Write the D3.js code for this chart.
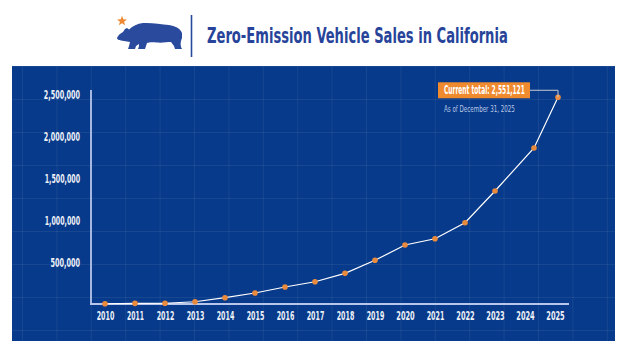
<!DOCTYPE html>
<html><head><meta charset="utf-8">
<script src="https://cdn.jsdelivr.net/npm/d3@7/dist/d3.min.js"></script>
<style>
html,body{margin:0;padding:0;background:#fff;}
svg{display:block;}
</style></head>
<body>
<svg id="chart" width="619" height="357"></svg>
<script>
// ---- data ----
const years = [2010,2011,2012,2013,2014,2015,2016,2017,2018,2019,2020,2021,2022,2023,2024,2025];
// x position of each point (year), as drawn in the picture
const pointYears = [2010,2011,2012,2013,2014,2015,2016,2017,2018,2019,2020,2021,2022,2023,2024.3,2025.1];
const cumulativeSales = [3000,8000,9000,27000,75000,131000,202000,265000,365000,520000,702000,777000,968000,1345000,1857000,2461000];
const yTicks = [500000,1000000,1500000,2000000,2500000];
const titleText = "Zero-Emission Vehicle Sales in California";
const calloutText = "Current total: 2,551,121";
const calloutSub = "As of December 31, 2025";

const FONT = "'Liberation Sans Narrow','DejaVu Sans Condensed','Roboto Condensed','DejaVu Sans',sans-serif";
const svg = d3.select("#chart");

// squeeze a text horizontally to a target width (condensed look), anchored as given
function squeeze(sel, target, anchor) {
  sel.each(function(){
    const t = d3.select(this);
    const w = this.getComputedTextLength();
    const tw = typeof target === "function" ? target(this.textContent) : target;
    const s = Math.min(1, tw / w);
    const xx = +t.attr("x") || 0, yy = +t.attr("y") || 0;
    t.attr("x", xx / s).attr("transform", `scale(${s},1)`);
  });
}
const condensedWidth = s => Array.from(s).reduce((w,c) => w + (c === "," ? 2 : c === "1" ? 3.8 : 4.6), 0);

// ---- header ----
const hdr = svg.append("g");
// bear (facing left)
const bearPath = "M0,15 C1,12 4,10 6,9 L8,6 L10,5 L12,6.5 C16,3 20,0.5 26,0 C34,-0.5 44,1 52,2 C58,3 63,5 65,10 L65,15 C64,18 63,20 64,24 L65,26 L58,26 L57,23 L54,19 C50,19 45,20 40,19.5 C36,19 32,19 30,20 L28,26 L21,26 L22,23 L22,21 L19,23 L18,26 L11,26 L12,23 L13,19 C10,18.5 7,18 4,17.5 C2,17 0,16.5 0,15 Z";
hdr.append("path").attr("d", bearPath).attr("fill", "#2a4a9e")
  .attr("transform", "translate(117,23)");
// star
const star = d3.range(10).map(i => {
  const r = i % 2 ? 2.2 : 5.2, a = -Math.PI/2 + i*Math.PI/5;
  return [r*Math.cos(a), r*Math.sin(a)];
});
hdr.append("path").attr("d", d3.line()(star) + "Z").attr("fill", "#ee8a33")
  .attr("transform", "translate(122,21)");
hdr.append("line").attr("x1",191.5).attr("x2",191.5).attr("y1",15).attr("y2",57)
  .attr("stroke","#2a4a9e").attr("stroke-width",1.6);
hdr.append("text").attr("x",207).attr("y",43)
  .attr("font-family",FONT).attr("font-weight","bold").attr("font-size",21)
  .attr("fill","#27449a")
  .text(titleText)
  .call(squeeze, 301);

// ---- panel ----
const panel = {x:12, y:66, w:603, h:275};
svg.append("rect").attr("x",panel.x).attr("y",panel.y).attr("width",panel.w).attr("height",panel.h)
  .attr("fill","#073a8a");
const grid = svg.append("g").attr("stroke","#ffffff").attr("stroke-opacity",0.07).attr("stroke-width",1);
d3.range(panel.x + 10.5, panel.x + panel.w, 34.4).forEach(x => {
  grid.append("line").attr("x1",x).attr("x2",x).attr("y1",panel.y).attr("y2",panel.y+panel.h);
});
d3.range(panel.y + 0.5, panel.y + panel.h, 33).forEach(y => {
  grid.append("line").attr("x1",panel.x).attr("x2",panel.x+panel.w).attr("y1",y).attr("y2",y);
});

// ---- scales ----
const x = d3.scaleLinear().domain([2010,2025]).range([105,555]);
const y = d3.scaleLinear().domain([0,2500000]).range([304,94]);

// axes
const yAxis = svg.append("g").attr("transform","translate(91,0)")
  .call(d3.axisLeft(y).tickValues(yTicks).tickSize(0).tickPadding(11).tickFormat(d3.format(",")));
yAxis.select(".domain").remove();
yAxis.selectAll("text").attr("font-family",FONT).attr("font-weight","bold")
  .attr("font-size",12.5).attr("fill","#eef1f8")
  .call(squeeze, condensedWidth);
svg.append("line").attr("x1",91).attr("x2",91).attr("y1",90).attr("y2",304)
  .attr("stroke","#b7c6ea").attr("stroke-width",1.8);

const xAxis = svg.append("g").attr("transform","translate(0,304)")
  .call(d3.axisBottom(x).tickValues(years).tickSize(0).tickPadding(7).tickFormat(d3.format("d")));
xAxis.select(".domain").remove();
xAxis.selectAll("text").attr("font-family",FONT).attr("font-weight","bold")
  .attr("font-size",12).attr("fill","#eef1f8")
  .call(squeeze, condensedWidth);
svg.append("line").attr("x1",90).attr("x2",569).attr("y1",304).attr("y2",304)
  .attr("stroke","#b7c6ea").attr("stroke-width",2);

// line and points
const pts = pointYears.map((yr,i) => [x(yr), y(cumulativeSales[i])]);
svg.append("path").attr("d", d3.line()(pts)).attr("fill","none")
  .attr("stroke","#ffffff").attr("stroke-width",1.2);
svg.append("g").selectAll("circle").data(pts).join("circle")
  .attr("cx",d=>d[0]).attr("cy",d=>d[1]).attr("r",2.8).attr("fill","#ea8a3c");

// callout
const last = pts[pts.length-1];
const boxR = last[0] - 28, boxY = last[1] - 15;
svg.append("path")
  .attr("d", `M${boxR},${boxY+8} H${last[0]} V${last[1]}`)
  .attr("fill","none").attr("stroke","#c7c9d3").attr("stroke-width",1);
svg.append("rect").attr("x",boxR-92).attr("y",boxY).attr("width",92).attr("height",16)
  .attr("fill","#ef8a2f");
svg.append("text").attr("x",boxR-86).attr("y",boxY+12)
  .attr("font-family",FONT).attr("font-weight","bold").attr("font-size",12)
  .attr("fill","#ffffff")
  .text(calloutText).call(squeeze, 81);
svg.append("text").attr("x",boxR-86).attr("y",boxY+30)
  .attr("font-family",FONT).attr("font-size",9.5)
  .attr("fill","#bcc8e6")
  .text(calloutSub).call(squeeze, 71);
</script>
</body></html>
